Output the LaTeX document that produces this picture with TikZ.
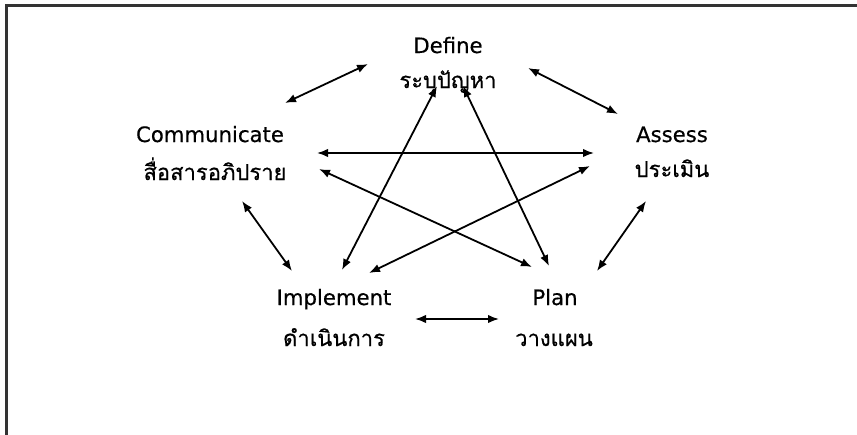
\documentclass[tikz,border=0pt]{standalone}
\usepackage{fontspec}
\setmainfont{DejaVu Sans}[FakeBold=0.5]
\newfontfamily\thai[Script=Thai,FakeBold=0.5]{Loma}
\usetikzlibrary{arrows.meta}
\begin{document}
\begin{tikzpicture}[x=1pt,y=-1pt,
  arr/.style={{Latex[length=11pt,width=8.5pt]}-{Latex[length=11pt,width=8.5pt]}, line width=1.8pt},
  en/.style={anchor=base, inner sep=0pt, font=\fontsize{21.2}{25}\selectfont},
  th/.style={anchor=base, inner sep=0pt, font=\thai\fontsize{22}{25}\selectfont},
  frame/.style={line width=2.2pt, draw=black!80}]
\useasboundingbox (0,0) rectangle (857,434);
\fill[white] (0,0) rectangle (857,434);
\draw[frame] (6.5,440) -- (6.5,5.5) -- (860,5.5);
% labels
\node[en] (defE) at (448,53) {Define};
\node[th] (defT) at (448,88) {ระบุปัญหา};
\node[en] (comE) at (210,142) {Communicate};
\node[th] (comT) at (215,180) {สื่อสารอภิปราย};
\node[en] (assE) at (672,142) {Assess};
\node[th] (assT) at (672,177) {ประเมิน};
\node[en] (impE) at (334,305) {Implement};
\node[th] (impT) at (334,346) {ดำเนินการ};
\node[en] (plaE) at (555,305) {Plan};
\node[th] (plaT) at (554,346) {วางแผน};
% arrow ends
\coordinate (d1) at (368,64);  \coordinate (c1) at (285,103);
\coordinate (d2) at (528,68);  \coordinate (a1) at (618,114);
\coordinate (c2) at (242,201); \coordinate (i1) at (292,271);
\coordinate (a2) at (646,201); \coordinate (p1) at (597,271);
\coordinate (i2) at (415,319); \coordinate (p2) at (499,319);
\coordinate (c3) at (317,153); \coordinate (a3) at (594,153);
\coordinate (c4) at (319,169); \coordinate (p3) at (532,267);
\coordinate (a4) at (590,166); \coordinate (i3) at (369,273);
\coordinate (d3) at (437,86);  \coordinate (i4) at (342,270);
\coordinate (d4) at (463,86);  \coordinate (p4) at (549,266);
\draw[arr] (c1) -- (d1);
\draw[arr] (d2) -- (a1);
\draw[arr] (c2) -- (i1);
\draw[arr] (a2) -- (p1);
\draw[arr] (i2) -- (p2);
\draw[arr] (c3) -- (a3);
\draw[arr] (c4) -- (p3);
\draw[arr] (a4) -- (i3);
\draw[arr] (d3) -- (i4);
\draw[arr] (d4) -- (p4);
\end{tikzpicture}
\end{document}
